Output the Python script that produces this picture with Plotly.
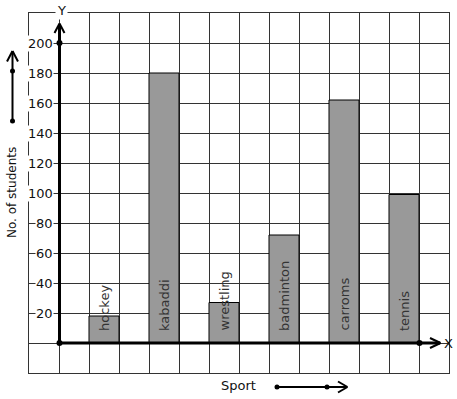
import plotly.graph_objects as go

# ---- data ----
sports = ["hockey", "kabaddi", "wrestling", "badminton", "carroms", "tennis"]
students = [18, 180, 27, 72, 162, 99]
y_ticks = [20, 40, 60, 80, 100, 120, 140, 160, 180, 200]
y_tick_labels = ["20", "40", "60", "80", "100", "120", "140", "160", "180", "200"]
x_title = "Sport"
y_title = "No. of students"

W, H = 457, 399
ML, MR, MT, MB = 29, 8, 13, 26
PW, PH = W - ML - MR, H - MT - MB
FONT = "DejaVu Sans"
GRID = "#333333"

def px(x):  # pixel -> paper x
    return (x - ML) / PW

def py(y):  # pixel -> paper y
    return (H - MB - y) / PH

bar_x = [2 * i + 1.5 for i in range(len(sports))]

fig = go.Figure()
fig.add_trace(go.Bar(
    x=bar_x, y=students, width=1,
    marker=dict(color="#999999", line=dict(color="#000000", width=1)),
    hoverinfo="skip", showlegend=False,
))

annotations = []
# labels inside bars
for xv, name in zip(bar_x, sports):
    annotations.append(dict(
        x=xv, y=0, xref="x", yref="y", text=name, showarrow=False,
        textangle=-90, yanchor="bottom", xanchor="center", yshift=10,
        font=dict(family=FONT, size=13, color="#333333"),
    ))
# y tick labels
for v, t in zip(y_ticks, y_tick_labels):
    annotations.append(dict(
        x=0, y=v, xref="x", yref="y", text=t, showarrow=False,
        xanchor="right", yanchor="middle", xshift=-5,
        bgcolor="white", borderpad=0,
        font=dict(family=FONT, size=13, color="#111111"),
    ))
# axis letters and titles
annotations += [
    dict(x=px(61), y=py(10), xref="paper", yref="paper", text="Y", showarrow=False,
         xanchor="center", yanchor="middle", bgcolor="white", borderpad=1,
         font=dict(family=FONT, size=13, color="#111111")),
    dict(x=px(448), y=py(343), xref="paper", yref="paper", text="X", showarrow=False,
         xanchor="center", yanchor="middle",
         font=dict(family=FONT, size=13, color="#111111")),
    dict(x=px(12), y=py(193), xref="paper", yref="paper", text=y_title, showarrow=False,
         textangle=-90, xanchor="center", yanchor="middle",
         font=dict(family=FONT, size=12, color="#111111")),
    dict(x=px(238.5), y=py(385), xref="paper", yref="paper", text=x_title, showarrow=False,
         xanchor="center", yanchor="middle",
         font=dict(family=FONT, size=13, color="#111111")),
]

def seg(x0, y0, x1, y1, w):
    return dict(type="line", xref="paper", yref="paper", x0=px(x0), y0=py(y0),
                x1=px(x1), y1=py(y1), line=dict(color="black", width=w), layer="above")

def dot(x, y, r=3):
    return dict(type="circle", xref="paper", yref="paper", xsizemode="pixel",
                ysizemode="pixel", xanchor=px(x), yanchor=py(y), x0=-r, x1=r, y0=-r, y1=r,
                fillcolor="black", line=dict(color="black", width=0), layer="above")

shapes = [
    # y axis
    seg(59.5, 343, 59.5, 24, 3), seg(54.5, 33, 59.5, 23.5, 2), seg(64.5, 33, 59.5, 23.5, 2),
    # x axis
    seg(59.5, 343, 440, 343, 3), seg(430, 338, 440.5, 343, 2), seg(430, 348, 440.5, 343, 2),
    dot(59.5, 43), dot(59.5, 343), dot(419.5, 343),
    # left arrow
    seg(12.5, 121, 12.5, 51.5, 2), seg(7, 61.5, 12.5, 51, 2), seg(18, 61.5, 12.5, 51, 2),
    dot(12.5, 71, 2.5), dot(12.5, 121, 2.5),
    # bottom arrow
    seg(277, 387, 347, 387, 2), seg(338, 381.5, 347.5, 387, 2), seg(338, 392.5, 347.5, 387, 2),
    dot(277, 387, 2.5), dot(327, 387, 2.5),
]

axis_common = dict(showgrid=True, gridcolor=GRID, gridwidth=1, zeroline=False,
                   showline=True, mirror=True, linecolor=GRID, linewidth=1,
                   showticklabels=False, ticks="", fixedrange=True)
fig.update_layout(
    width=W, height=H, autosize=False,
    margin=dict(l=ML, r=MR, t=MT, b=MB, pad=0),
    paper_bgcolor="white", plot_bgcolor="white",
    xaxis=dict(range=[-1, 13], tick0=0, dtick=1, **axis_common),
    yaxis=dict(range=[-20, 220], tick0=0, dtick=20, **axis_common),
    annotations=annotations, shapes=shapes, showlegend=False,
    font=dict(family=FONT),
)

fig.write_html("out.html", config={"displayModeBar": False},
               post_script="document.body.style.margin='0';document.body.style.overflow='hidden';")
